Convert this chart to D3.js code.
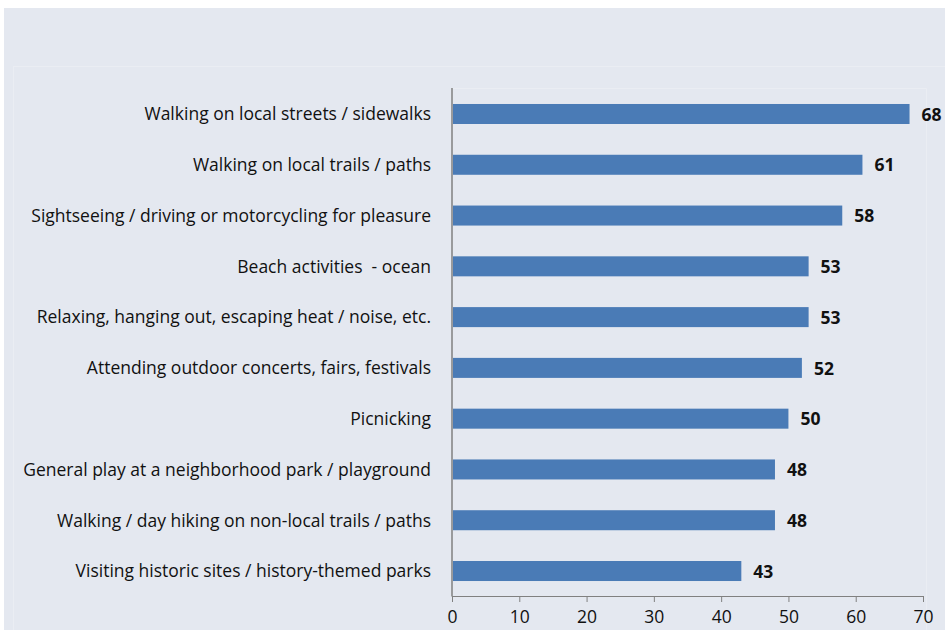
<!DOCTYPE html>
<html>
<head>
<meta charset="utf-8">
<script src="https://cdn.jsdelivr.net/npm/d3@7"></script>
<style>
  html, body { margin: 0; padding: 0; background: #ffffff; }
  svg { display: block; }
  text { white-space: pre; }
</style>
</head>
<body>
<svg id="chart" width="945" height="630"></svg>
<script>
// Outdoor activities, percent participating
const categories = [
  "Walking on local streets / sidewalks",
  "Walking on local trails / paths",
  "Sightseeing / driving or motorcycling for pleasure",
  "Beach activities  - ocean",
  "Relaxing, hanging out, escaping heat / noise, etc.",
  "Attending outdoor concerts, fairs, festivals",
  "Picnicking",
  "General play at a neighborhood park / playground",
  "Walking / day hiking on non-local trails / paths",
  "Visiting historic sites / history-themed parks"
];
const values = [68, 61, 58, 53, 53, 52, 50, 48, 48, 43];
const tickValues = [0, 10, 20, 30, 40, 50, 60, 70];

const svg = d3.select("#chart");
const W = 945, H = 630;
const font = "'Open Sans', 'Noto Sans', sans-serif";

// panel background
svg.append("rect").attr("x", 4).attr("y", 8).attr("width", W - 4).attr("height", H - 8)
  .attr("fill", "#e4e8f0");
// faint chart-area outlines
svg.append("line").attr("x1", 14).attr("x2", W).attr("y1", 66.5).attr("y2", 66.5)
  .attr("stroke", "#eaedf3").attr("stroke-width", 1);
svg.append("line").attr("x1", 13.5).attr("x2", 13.5).attr("y1", 66).attr("y2", H)
  .attr("stroke", "#eaedf3").attr("stroke-width", 1);
svg.append("path").attr("d", "M452,88.5H926.5V630")
  .attr("fill", "none").attr("stroke", "#eaedf3").attr("stroke-width", 1);

const x = d3.scaleLinear().domain([0, 70]).range([452, 923]);
const y = d3.scaleBand().domain(categories).range([88.6, 596.4])
  .paddingInner(0.606).paddingOuter(0.303);

// bars
svg.append("g").selectAll("rect").data(values).join("rect")
  .attr("x", x(0) + 1)
  .attr("y", (d, i) => y(categories[i]))
  .attr("width", d => x(d) - x(0) - 1)
  .attr("height", y.bandwidth())
  .attr("fill", "#4a7bb6");

// value labels
svg.append("g").selectAll("text").data(values).join("text")
  .attr("x", d => x(d) + 12)
  .attr("y", (d, i) => y(categories[i]) + y.bandwidth() / 2)
  .attr("dy", "0.38em")
  .attr("font-family", font).attr("font-size", 17.5).attr("font-weight", "bold")
  .attr("fill", "#111")
  .text(d => d);

// category labels
svg.append("g").selectAll("text").data(categories).join("text")
  .attr("x", 431)
  .attr("y", d => y(d) + y.bandwidth() / 2)
  .attr("dy", "0.36em")
  .attr("text-anchor", "end")
  .attr("font-family", font).attr("font-size", 17.5)
  .attr("fill", "#111")
  .text(d => d);

// value axis
const xAxis = d3.axisBottom(x).tickValues(tickValues).tickSize(6).tickPadding(9);
const gx = svg.append("g").attr("transform", "translate(0,596)").call(xAxis);
gx.select(".domain").attr("stroke", "#808080").attr("d", "M452,0.5H923");
gx.selectAll(".tick line").attr("stroke", "#808080");
gx.selectAll(".tick text").attr("font-family", font).attr("font-size", 17.5).attr("fill", "#111");

// category axis line
svg.append("line").attr("x1", 452).attr("x2", 452).attr("y1", 88).attr("y2", 596.5)
  .attr("stroke", "#808080").attr("stroke-width", 1.5);
</script>
</body>
</html>
